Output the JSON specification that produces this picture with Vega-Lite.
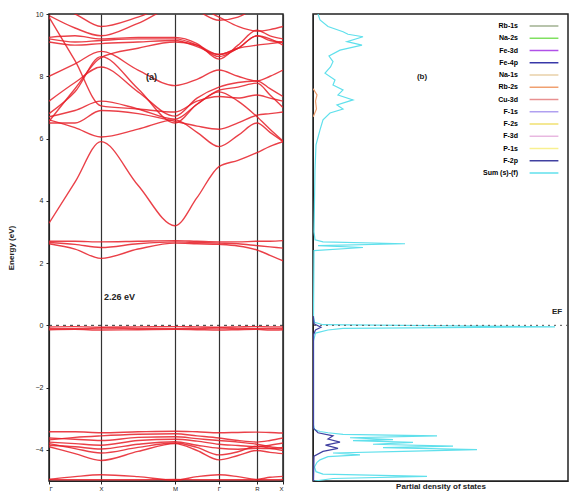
{
"$schema": "https://vega.github.io/schema/vega-lite/v6.json",
"padding": {"left": 6, "top": 9, "right": 2, "bottom": 0},
"config": {"view": {"stroke": "#222", "strokeWidth": 1.5}, "font": "Liberation Sans", "axis": {"labelFontSize": 7, "titleFontSize": 8, "labelColor": "#222", "titleColor": "#222", "domainColor": "#222", "tickColor": "#222"}},
"spacing": 26,
"datasets": {
"bands": [
{"b":"b1","k":0,"E":-4.95},{"b":"b1","k":26,"E":-4.96},{"b":"b1","k":52,"E":-4.96},{"b":"b1","k":89,"E":-4.96},{"b":"b1","k":126,"E":-4.95},{"b":"b1","k":148,"E":-4.96},{"b":"b1","k":170,"E":-4.96},{"b":"b1","k":189,"E":-4.96},{"b":"b1","k":208,"E":-4.96},{"b":"b1","k":221,"E":-4.96},{"b":"b1","k":234,"E":-4.95},
{"b":"b2","k":0,"E":-4.95},{"b":"b2","k":26,"E":-4.86},{"b":"b2","k":52,"E":-4.80},{"b":"b2","k":89,"E":-4.86},{"b":"b2","k":126,"E":-4.97},{"b":"b2","k":148,"E":-4.86},{"b":"b2","k":170,"E":-4.80},{"b":"b2","k":189,"E":-4.86},{"b":"b2","k":208,"E":-4.95},{"b":"b2","k":221,"E":-4.88},{"b":"b2","k":234,"E":-4.85},
{"b":"v1","k":0,"E":-3.42},{"b":"v1","k":26,"E":-3.42},{"b":"v1","k":52,"E":-3.45},{"b":"v1","k":89,"E":-3.42},{"b":"v1","k":126,"E":-3.40},{"b":"v1","k":148,"E":-3.42},{"b":"v1","k":170,"E":-3.45},{"b":"v1","k":189,"E":-3.44},{"b":"v1","k":208,"E":-3.43},{"b":"v1","k":221,"E":-3.44},{"b":"v1","k":234,"E":-3.46},
{"b":"v2","k":0,"E":-3.68},{"b":"v2","k":26,"E":-3.60},{"b":"v2","k":52,"E":-3.55},{"b":"v2","k":89,"E":-3.50},{"b":"v2","k":126,"E":-3.48},{"b":"v2","k":148,"E":-3.55},{"b":"v2","k":170,"E":-3.62},{"b":"v2","k":189,"E":-3.70},{"b":"v2","k":208,"E":-3.75},{"b":"v2","k":221,"E":-3.70},{"b":"v2","k":234,"E":-3.62},
{"b":"v3","k":0,"E":-3.75},{"b":"v3","k":26,"E":-3.80},{"b":"v3","k":52,"E":-3.85},{"b":"v3","k":89,"E":-3.70},{"b":"v3","k":126,"E":-3.66},{"b":"v3","k":148,"E":-3.72},{"b":"v3","k":170,"E":-3.82},{"b":"v3","k":189,"E":-3.86},{"b":"v3","k":208,"E":-3.90},{"b":"v3","k":221,"E":-3.85},{"b":"v3","k":234,"E":-3.78},
{"b":"v4","k":0,"E":-3.85},{"b":"v4","k":26,"E":-3.90},{"b":"v4","k":52,"E":-3.97},{"b":"v4","k":89,"E":-3.82},{"b":"v4","k":126,"E":-3.74},{"b":"v4","k":148,"E":-3.85},{"b":"v4","k":170,"E":-3.95},{"b":"v4","k":189,"E":-3.98},{"b":"v4","k":208,"E":-3.95},{"b":"v4","k":221,"E":-3.96},{"b":"v4","k":234,"E":-3.92},
{"b":"v5","k":0,"E":-3.90},{"b":"v5","k":26,"E":-4.12},{"b":"v5","k":52,"E":-4.34},{"b":"v5","k":89,"E":-4.05},{"b":"v5","k":126,"E":-3.80},{"b":"v5","k":148,"E":-4.02},{"b":"v5","k":170,"E":-4.32},{"b":"v5","k":189,"E":-4.18},{"b":"v5","k":208,"E":-4.02},{"b":"v5","k":221,"E":-4.08},{"b":"v5","k":234,"E":-4.12},
{"b":"v6","k":0,"E":-3.80},{"b":"v6","k":26,"E":-3.96},{"b":"v6","k":52,"E":-4.10},{"b":"v6","k":89,"E":-3.92},{"b":"v6","k":126,"E":-3.78},{"b":"v6","k":148,"E":-3.92},{"b":"v6","k":170,"E":-4.16},{"b":"v6","k":189,"E":-4.06},{"b":"v6","k":208,"E":-3.88},{"b":"v6","k":221,"E":-3.95},{"b":"v6","k":234,"E":-4.02},
{"b":"v7","k":0,"E":-3.62},{"b":"v7","k":26,"E":-3.66},{"b":"v7","k":52,"E":-3.70},{"b":"v7","k":89,"E":-3.60},{"b":"v7","k":126,"E":-3.58},{"b":"v7","k":148,"E":-3.64},{"b":"v7","k":170,"E":-3.70},{"b":"v7","k":189,"E":-3.75},{"b":"v7","k":208,"E":-3.82},{"b":"v7","k":221,"E":-3.90},{"b":"v7","k":234,"E":-3.96},
{"b":"f1","k":0,"E":-0.05},{"b":"f1","k":26,"E":-0.04},{"b":"f1","k":52,"E":-0.06},{"b":"f1","k":89,"E":-0.05},{"b":"f1","k":126,"E":-0.04},{"b":"f1","k":148,"E":-0.05},{"b":"f1","k":170,"E":-0.06},{"b":"f1","k":189,"E":-0.05},{"b":"f1","k":208,"E":-0.04},{"b":"f1","k":221,"E":-0.05},{"b":"f1","k":234,"E":-0.05},
{"b":"f2","k":0,"E":-0.10},{"b":"f2","k":26,"E":-0.11},{"b":"f2","k":52,"E":-0.09},{"b":"f2","k":89,"E":-0.10},{"b":"f2","k":126,"E":-0.11},{"b":"f2","k":148,"E":-0.10},{"b":"f2","k":170,"E":-0.09},{"b":"f2","k":189,"E":-0.10},{"b":"f2","k":208,"E":-0.11},{"b":"f2","k":221,"E":-0.10},{"b":"f2","k":234,"E":-0.10},
{"b":"f3","k":0,"E":-0.14},{"b":"f3","k":26,"E":-0.13},{"b":"f3","k":52,"E":-0.15},{"b":"f3","k":89,"E":-0.14},{"b":"f3","k":126,"E":-0.13},{"b":"f3","k":148,"E":-0.14},{"b":"f3","k":170,"E":-0.15},{"b":"f3","k":189,"E":-0.14},{"b":"f3","k":208,"E":-0.13},{"b":"f3","k":221,"E":-0.15},{"b":"f3","k":234,"E":-0.14},
{"b":"l1","k":0,"E":2.70},{"b":"l1","k":26,"E":2.70},{"b":"l1","k":52,"E":2.68},{"b":"l1","k":89,"E":2.70},{"b":"l1","k":126,"E":2.72},{"b":"l1","k":148,"E":2.70},{"b":"l1","k":170,"E":2.68},{"b":"l1","k":189,"E":2.68},{"b":"l1","k":208,"E":2.70},{"b":"l1","k":221,"E":2.70},{"b":"l1","k":234,"E":2.72},
{"b":"l2","k":0,"E":2.62},{"b":"l2","k":26,"E":2.45},{"b":"l2","k":52,"E":2.15},{"b":"l2","k":89,"E":2.45},{"b":"l2","k":126,"E":2.64},{"b":"l2","k":148,"E":2.62},{"b":"l2","k":170,"E":2.60},{"b":"l2","k":189,"E":2.55},{"b":"l2","k":208,"E":2.42},{"b":"l2","k":221,"E":2.25},{"b":"l2","k":234,"E":2.07},
{"b":"l3","k":0,"E":2.66},{"b":"l3","k":26,"E":2.60},{"b":"l3","k":52,"E":2.50},{"b":"l3","k":89,"E":2.62},{"b":"l3","k":126,"E":2.68},{"b":"l3","k":148,"E":2.66},{"b":"l3","k":170,"E":2.64},{"b":"l3","k":189,"E":2.62},{"b":"l3","k":208,"E":2.56},{"b":"l3","k":221,"E":2.52},{"b":"l3","k":234,"E":2.48},
{"b":"c1","k":0,"E":3.28},{"b":"c1","k":26,"E":4.60},{"b":"c1","k":52,"E":5.90},{"b":"c1","k":89,"E":4.50},{"b":"c1","k":126,"E":3.20},{"b":"c1","k":148,"E":4.10},{"b":"c1","k":170,"E":5.10},{"b":"c1","k":189,"E":5.30},{"b":"c1","k":208,"E":5.55},{"b":"c1","k":221,"E":5.75},{"b":"c1","k":234,"E":5.90},
{"b":"c2","k":0,"E":6.60},{"b":"c2","k":26,"E":6.35},{"b":"c2","k":52,"E":6.05},{"b":"c2","k":89,"E":6.30},{"b":"c2","k":126,"E":6.60},{"b":"c2","k":148,"E":6.20},{"b":"c2","k":170,"E":5.74},{"b":"c2","k":189,"E":6.10},{"b":"c2","k":208,"E":6.50},{"b":"c2","k":221,"E":6.20},{"b":"c2","k":234,"E":5.90},
{"b":"c3","k":0,"E":6.70},{"b":"c3","k":26,"E":6.90},{"b":"c3","k":52,"E":7.20},{"b":"c3","k":89,"E":6.95},{"b":"c3","k":126,"E":6.62},{"b":"c3","k":148,"E":7.10},{"b":"c3","k":170,"E":7.55},{"b":"c3","k":189,"E":7.65},{"b":"c3","k":208,"E":7.78},{"b":"c3","k":221,"E":7.40},{"b":"c3","k":234,"E":7.00},
{"b":"c4","k":0,"E":6.80},{"b":"c4","k":26,"E":7.50},{"b":"c4","k":52,"E":8.63},{"b":"c4","k":89,"E":7.60},{"b":"c4","k":126,"E":6.50},{"b":"c4","k":148,"E":7.10},{"b":"c4","k":170,"E":7.50},{"b":"c4","k":189,"E":7.20},{"b":"c4","k":208,"E":6.70},{"b":"c4","k":221,"E":6.30},{"b":"c4","k":234,"E":5.92},
{"b":"c5","k":0,"E":7.20},{"b":"c5","k":26,"E":7.80},{"b":"c5","k":52,"E":8.30},{"b":"c5","k":89,"E":7.50},{"b":"c5","k":126,"E":6.72},{"b":"c5","k":148,"E":7.30},{"b":"c5","k":170,"E":7.65},{"b":"c5","k":189,"E":7.80},{"b":"c5","k":208,"E":7.85},{"b":"c5","k":221,"E":7.60},{"b":"c5","k":234,"E":7.35},
{"b":"c6","k":0,"E":9.20},{"b":"c6","k":26,"E":9.10},{"b":"c6","k":52,"E":9.15},{"b":"c6","k":89,"E":9.20},{"b":"c6","k":126,"E":9.20},{"b":"c6","k":148,"E":9.00},{"b":"c6","k":170,"E":8.63},{"b":"c6","k":189,"E":8.90},{"b":"c6","k":208,"E":9.30},{"b":"c6","k":221,"E":9.15},{"b":"c6","k":234,"E":9.10},
{"b":"c7","k":0,"E":9.25},{"b":"c7","k":26,"E":9.30},{"b":"c7","k":52,"E":9.20},{"b":"c7","k":89,"E":9.25},{"b":"c7","k":126,"E":9.25},{"b":"c7","k":148,"E":9.05},{"b":"c7","k":170,"E":8.55},{"b":"c7","k":189,"E":9.00},{"b":"c7","k":208,"E":9.48},{"b":"c7","k":221,"E":9.30},{"b":"c7","k":234,"E":9.20},
{"b":"c8","k":0,"E":9.10},{"b":"c8","k":26,"E":9.00},{"b":"c8","k":52,"E":9.05},{"b":"c8","k":89,"E":9.10},{"b":"c8","k":126,"E":9.15},{"b":"c8","k":148,"E":8.95},{"b":"c8","k":170,"E":8.70},{"b":"c8","k":189,"E":8.90},{"b":"c8","k":208,"E":9.00},{"b":"c8","k":221,"E":9.05},{"b":"c8","k":234,"E":9.10},
{"b":"c9","k":0,"E":9.95},{"b":"c9","k":26,"E":9.55},{"b":"c9","k":52,"E":9.30},{"b":"c9","k":89,"E":9.70},{"b":"c9","k":126,"E":10.20},{"b":"c9","k":148,"E":10.20},{"b":"c9","k":170,"E":9.90},{"b":"c9","k":189,"E":9.60},{"b":"c9","k":208,"E":9.45},{"b":"c9","k":221,"E":9.50},{"b":"c9","k":234,"E":9.60},
{"b":"c10","k":0,"E":9.90},{"b":"c10","k":26,"E":8.50},{"b":"c10","k":52,"E":7.05},{"b":"c10","k":89,"E":6.95},{"b":"c10","k":126,"E":6.85},{"b":"c10","k":148,"E":7.20},{"b":"c10","k":170,"E":7.35},{"b":"c10","k":189,"E":7.30},{"b":"c10","k":208,"E":7.40},{"b":"c10","k":221,"E":7.30},{"b":"c10","k":234,"E":7.20},
{"b":"c11","k":0,"E":6.55},{"b":"c11","k":26,"E":7.60},{"b":"c11","k":52,"E":8.60},{"b":"c11","k":89,"E":8.90},{"b":"c11","k":126,"E":9.10},{"b":"c11","k":148,"E":9.00},{"b":"c11","k":170,"E":8.70},{"b":"c11","k":189,"E":8.90},{"b":"c11","k":208,"E":9.30},{"b":"c11","k":221,"E":9.20},{"b":"c11","k":234,"E":9.00},
{"b":"c12","k":0,"E":6.50},{"b":"c12","k":26,"E":6.50},{"b":"c12","k":52,"E":6.90},{"b":"c12","k":89,"E":6.80},{"b":"c12","k":126,"E":6.55},{"b":"c12","k":148,"E":6.40},{"b":"c12","k":170,"E":6.30},{"b":"c12","k":189,"E":6.50},{"b":"c12","k":208,"E":6.75},{"b":"c12","k":221,"E":6.80},{"b":"c12","k":234,"E":6.85},
{"b":"c13","k":0,"E":10.30},{"b":"c13","k":26,"E":10.00},{"b":"c13","k":52,"E":9.60},{"b":"c13","k":89,"E":9.90},{"b":"c13","k":126,"E":10.30},{"b":"c13","k":148,"E":10.10},{"b":"c13","k":170,"E":9.80},{"b":"c13","k":189,"E":9.90},{"b":"c13","k":208,"E":10.20},{"b":"c13","k":221,"E":10.30},{"b":"c13","k":234,"E":10.30},
{"b":"c14","k":0,"E":8.00},{"b":"c14","k":26,"E":8.40},{"b":"c14","k":52,"E":8.80},{"b":"c14","k":89,"E":8.20},{"b":"c14","k":126,"E":7.70},{"b":"c14","k":148,"E":7.90},{"b":"c14","k":170,"E":8.20},{"b":"c14","k":189,"E":8.00},{"b":"c14","k":208,"E":7.85},{"b":"c14","k":221,"E":8.00},{"b":"c14","k":234,"E":8.20}
],
"dos": [
{"s":"Sum (s)-(f)","E":-5.0,"D":0.3},{"s":"Sum (s)-(f)","E":-4.92,"D":4},{"s":"Sum (s)-(f)","E":-4.85,"D":22.8},{"s":"Sum (s)-(f)","E":-4.78,"D":2},{"s":"Sum (s)-(f)","E":-4.7,"D":0.6},{"s":"Sum (s)-(f)","E":-4.55,"D":0.3},{"s":"Sum (s)-(f)","E":-4.4,"D":0.8},{"s":"Sum (s)-(f)","E":-4.32,"D":1.4},{"s":"Sum (s)-(f)","E":-4.22,"D":3},{"s":"Sum (s)-(f)","E":-4.16,"D":9.4},{"s":"Sum (s)-(f)","E":-4.1,"D":4},{"s":"Sum (s)-(f)","E":-4.05,"D":18},{"s":"Sum (s)-(f)","E":-3.99,"D":32.8},{"s":"Sum (s)-(f)","E":-3.93,"D":14},{"s":"Sum (s)-(f)","E":-3.88,"D":28},{"s":"Sum (s)-(f)","E":-3.82,"D":12},{"s":"Sum (s)-(f)","E":-3.76,"D":20},{"s":"Sum (s)-(f)","E":-3.7,"D":8},{"s":"Sum (s)-(f)","E":-3.67,"D":16},{"s":"Sum (s)-(f)","E":-3.61,"D":7.4},{"s":"Sum (s)-(f)","E":-3.55,"D":24.8},{"s":"Sum (s)-(f)","E":-3.5,"D":6},{"s":"Sum (s)-(f)","E":-3.45,"D":3},{"s":"Sum (s)-(f)","E":-3.41,"D":1.4},{"s":"Sum (s)-(f)","E":-3.35,"D":0.3},{"s":"Sum (s)-(f)","E":-3.2,"D":0.1},{"s":"Sum (s)-(f)","E":-0.5,"D":0.1},{"s":"Sum (s)-(f)","E":-0.25,"D":0.5},{"s":"Sum (s)-(f)","E":-0.15,"D":3},{"s":"Sum (s)-(f)","E":-0.1,"D":6},{"s":"Sum (s)-(f)","E":-0.05,"D":48.4},{"s":"Sum (s)-(f)","E":0.02,"D":2},{"s":"Sum (s)-(f)","E":0.1,"D":0.3},{"s":"Sum (s)-(f)","E":0.3,"D":0.1},{"s":"Sum (s)-(f)","E":2.4,"D":0.2},{"s":"Sum (s)-(f)","E":2.5,"D":10},{"s":"Sum (s)-(f)","E":2.56,"D":1},{"s":"Sum (s)-(f)","E":2.62,"D":18.4},{"s":"Sum (s)-(f)","E":2.68,"D":2},{"s":"Sum (s)-(f)","E":2.75,"D":0.4},{"s":"Sum (s)-(f)","E":3.0,"D":0.2},{"s":"Sum (s)-(f)","E":4.0,"D":0.3},{"s":"Sum (s)-(f)","E":5.0,"D":0.4},{"s":"Sum (s)-(f)","E":5.8,"D":0.6},{"s":"Sum (s)-(f)","E":6.28,"D":1.4},{"s":"Sum (s)-(f)","E":6.6,"D":2},{"s":"Sum (s)-(f)","E":6.82,"D":3.4},{"s":"Sum (s)-(f)","E":6.95,"D":6},{"s":"Sum (s)-(f)","E":7.08,"D":4.8},{"s":"Sum (s)-(f)","E":7.24,"D":8},{"s":"Sum (s)-(f)","E":7.4,"D":5},{"s":"Sum (s)-(f)","E":7.56,"D":6},{"s":"Sum (s)-(f)","E":7.72,"D":4},{"s":"Sum (s)-(f)","E":7.88,"D":4.4},{"s":"Sum (s)-(f)","E":8.1,"D":2.4},{"s":"Sum (s)-(f)","E":8.3,"D":3.5},{"s":"Sum (s)-(f)","E":8.47,"D":4},{"s":"Sum (s)-(f)","E":8.65,"D":3.2},{"s":"Sum (s)-(f)","E":8.84,"D":5.4},{"s":"Sum (s)-(f)","E":9.0,"D":9.8},{"s":"Sum (s)-(f)","E":9.11,"D":6.8},{"s":"Sum (s)-(f)","E":9.27,"D":10},{"s":"Sum (s)-(f)","E":9.35,"D":7},{"s":"Sum (s)-(f)","E":9.43,"D":6},{"s":"Sum (s)-(f)","E":9.6,"D":3},{"s":"Sum (s)-(f)","E":9.81,"D":1.4},{"s":"Sum (s)-(f)","E":10.0,"D":1},
{"s":"F-2p","E":-5.0,"D":0.1},{"s":"F-2p","E":-4.2,"D":0.2},{"s":"F-2p","E":-4.05,"D":2},{"s":"F-2p","E":-3.95,"D":5},{"s":"F-2p","E":-3.85,"D":2.5},{"s":"F-2p","E":-3.75,"D":5.4},{"s":"F-2p","E":-3.65,"D":3},{"s":"F-2p","E":-3.55,"D":4},{"s":"F-2p","E":-3.45,"D":1},{"s":"F-2p","E":-3.3,"D":0.1},{"s":"F-2p","E":-0.3,"D":0.1},{"s":"F-2p","E":-0.15,"D":0.5},{"s":"F-2p","E":-0.06,"D":1.6},{"s":"F-2p","E":0.05,"D":0.2},{"s":"F-2p","E":0.3,"D":0.05},
{"s":"Rb-2s","E":6.7,"D":0.05},{"s":"Rb-2s","E":6.95,"D":0.7},{"s":"Rb-2s","E":7.2,"D":0.5},{"s":"Rb-2s","E":7.4,"D":0.8},{"s":"Rb-2s","E":7.6,"D":0.05}
]
},
"hconcat": [
{
"width": 234, "height": 467,
"layer": [
{"data": {"name": "bands"},
 "mark": {"type": "line", "color": "#e61e28", "strokeWidth": 1.4, "opacity": 0.85, "interpolate": "monotone", "clip": true},
 "encoding": {
  "x": {"field": "k", "type": "quantitative", "scale": {"domain": [0, 234], "nice": false},
        "axis": {"title": null, "values": [0, 52, 126, 170, 208, 234], "grid": true, "gridColor": "#333", "gridWidth": 1.2, "gridOpacity": 1, "tickSize": 3, "labelPadding": 1, "labelFontSize": 6,
                 "labelExpr": "datum.value == 0 ? 'Γ' : datum.value == 52 ? 'X' : datum.value == 126 ? 'M' : datum.value == 170 ? 'Γ' : datum.value == 208 ? 'R' : 'X'"}},
  "y": {"field": "E", "type": "quantitative", "scale": {"domain": [-5, 10], "nice": false},
        "axis": {"title": "Energy (eV)", "values": [-4, -2, 0, 2, 4, 6, 8, 10], "grid": false, "tickSize": 3, "labelPadding": 3, "titlePadding": 20}},
  "detail": {"field": "b"},
  "order": {"field": "k"}
 }},
{"data": {"values": [{"E": 0}]},
 "mark": {"type": "rule", "color": "#333", "strokeDash": [3, 4], "strokeWidth": 1},
 "encoding": {"y": {"field": "E", "type": "quantitative"}}},
{"data": {"values": [{"k": 97, "E": 7.97, "t": "(a)"}, {"k": 55, "E": 0.92, "t": "2.26 eV"}]},
 "mark": {"type": "text", "align": "left", "baseline": "middle", "fontSize": 9, "fontWeight": "bold", "color": "#222"},
 "encoding": {"x": {"field": "k", "type": "quantitative"}, "y": {"field": "E", "type": "quantitative"}, "text": {"field": "t"}}}
]
},
{
"width": 255, "height": 467,
"layer": [
{"data": {"name": "dos"},
 "mark": {"type": "line", "strokeWidth": 1.2, "clip": true},
 "encoding": {
  "x": {"field": "D", "type": "quantitative", "scale": {"domain": [0, 51], "nice": false},
        "axis": {"title": "Partial density of states", "labels": false, "ticks": false, "grid": false, "titlePadding": 1, "titleFontSize": 8}},
  "y": {"field": "E", "type": "quantitative", "scale": {"domain": [-5, 10], "nice": false},
        "axis": {"title": null, "labels": false, "ticks": false, "grid": false}},
  "color": {"field": "s", "type": "nominal",
    "scale": {"domain": ["Rb-1s", "Na-2s", "Fe-3d", "Fe-4p", "Na-1s", "Rb-2s", "Cu-3d", "F-1s", "F-2s", "F-3d", "P-1s", "F-2p", "Sum (s)-(f)"],
              "range": ["#a0b090", "#80e060", "#b050e8", "#3838a8", "#e8d0a8", "#f0a070", "#e89090", "#b0a0f0", "#f0e070", "#e8b8e0", "#f8f090", "#4040a0", "#60e0ec"]},
    "legend": {"orient": "none", "legendX": 486, "legendY": 3, "title": null, "symbolType": "M-1.8,0H1.8", "symbolStrokeWidth": 1.5, "symbolSize": 256, "labelFontSize": 7, "labelFontWeight": "bold", "rowPadding": 0.25, "labelAlign": "right", "labelOffset": -35}},
  "order": {"field": "E"}
 }},
{"data": {"values": [{"E": 0}]},
 "mark": {"type": "rule", "color": "#555", "strokeDash": [2, 4], "strokeWidth": 1},
 "encoding": {"y": {"field": "E", "type": "quantitative"}}},
{"data": {"values": [{"D": 21.8, "E": 7.97, "t": "(b)"}, {"D": 48.8, "E": 0.43, "t": "EF"}]},
 "mark": {"type": "text", "align": "center", "baseline": "middle", "fontSize": 8, "fontWeight": "bold", "color": "#222"},
 "encoding": {"x": {"field": "D", "type": "quantitative"}, "y": {"field": "E", "type": "quantitative"}, "text": {"field": "t"}}}
]
}
]
}
